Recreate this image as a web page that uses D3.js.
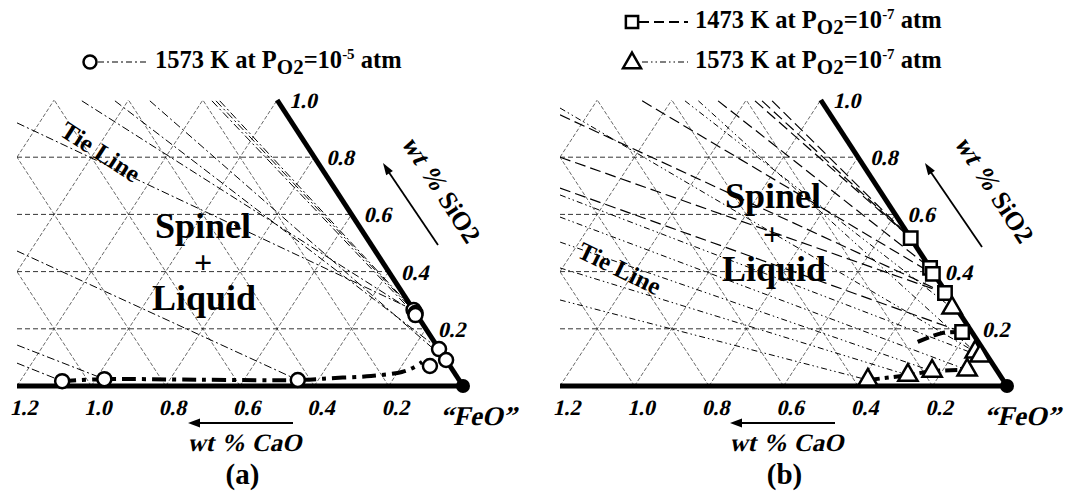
<!DOCTYPE html>
<html><head><meta charset="utf-8">
<script src="https://cdn.jsdelivr.net/npm/d3@7"></script>
<style>
body{margin:0;background:#fff;}
svg text{font-family:"Liberation Serif","Times New Roman",serif;font-weight:bold;fill:#000;}
</style></head><body>
<svg id="chart" width="1073" height="495"></svg>
<script>
// ---------- data ----------
const caoTicks = [1.2, 1.0, 0.8, 0.6, 0.4, 0.2];
const sio2Ticks = [1.0, 0.8, 0.6, 0.4, 0.2];
const gridLevels = [0.2, 0.4, 0.6, 0.8, 1.0, 1.2, 1.4, 1.6];

// panel (a): 1573 K, PO2 = 1e-5 atm  (CaO, SiO2 mass ratios)
const a1573CaO  = [1.07, 0.953, 0.434, 0.0, 0.0, 0.004, 0.0, 0.0, 0.054];
const a1573SiO2 = [0.017, 0.024, 0.021, 0.266, 0.255, 0.248, 0.129, 0.091, 0.070];
const aLiquidusCaO  = [1.07, 0.953, 0.70, 0.434, 0.33, 0.23, 0.14, 0.10, 0.068];
const aLiquidusSiO2 = [0.017, 0.024, 0.022, 0.021, 0.028, 0.035, 0.049, 0.065, 0.084];
// tie lines: [CaO start, SiO2 start, CaO end, SiO2 end]
const aTieLines = [
  [0.740, 0.920, 0.0, 0.266],
  [0.527, 0.997, 0.0, 0.255],
  [0.438, 0.997, 0.0, 0.129],
  [0.344, 0.997, 0.0, 0.091],
  [0.177, 0.997, 0.004, 0.248],
  [0.166, 0.997, 0.0, 0.255],
  [0.156, 0.997, 0.0, 0.266],
  [0.964, 0.472, 0.434, 0.021],
  [1.128, 0.143, 0.953, 0.024],
  [1.160, 0.080, 1.07, 0.017]
];

// panel (b): 1473 K and 1573 K at PO2 = 1e-7 atm
const b1473CaO  = [0.0, 0.0, 0.003, 0.004, 0.026];
const b1473SiO2 = [0.517, 0.413, 0.392, 0.325, 0.189];
const b1473BoundCaO  = [0.026, 0.082, 0.172];
const b1473BoundSiO2 = [0.189, 0.185, 0.150];
const b1573CaO  = [0.011, 0.026, 0.020, 0.079, 0.175, 0.247, 0.363];
const b1573SiO2 = [0.273, 0.119, 0.105, 0.056, 0.052, 0.038, 0.021];
const b1573BoundCaO  = [0.363, 0.247, 0.175, 0.079];
const b1573BoundSiO2 = [0.021, 0.038, 0.052, 0.056];
const b1473TieLines = [
  [0.178, 0.997, 0.0, 0.517],
  [0.159, 0.997, 0.0, 0.517],
  [0.132, 0.997, 0.0, 0.517],
  [0.277, 0.997, 0.0, 0.413],
  [0.481, 0.997, 0.003, 0.392],
  [0.726, 0.948, 0.004, 0.325],
  [0.800, 0.800, 0.004, 0.325],
  [0.854, 0.692, 0.026, 0.189]
];
const b1573TieLines = [
  [0.366, 0.997, 0.011, 0.273],
  [0.330, 0.997, 0.026, 0.119],
  [0.714, 0.972, 0.026, 0.119],
  [0.866, 0.668, 0.020, 0.105],
  [0.905, 0.591, 0.079, 0.056],
  [0.948, 0.503, 0.175, 0.052],
  [0.994, 0.413, 0.247, 0.038],
  [1.050, 0.301, 0.363, 0.021]
];

// ---------- drawing ----------
const svg = d3.select("#chart");
const SKEW = -13;
const DASH_A = "8,3,2,3";
const DASH_SQ = "11,5";
const DASH_TRI = "6,3,1.5,3,1.5,3";

function zip(cs, ss) { return cs.map((c, i) => [c, ss[i]]); }

// bold-italic text (slanted bold serif)
function itText(parent, x, y, size, anchor, str) {
  return parent.append("text").attr("transform", `translate(${x},${y}) skewX(${SKEW})`)
    .attr("font-size", size).attr("text-anchor", anchor).text(str);
}

function drawPanel(cfg) {
  const g = svg.append("g");
  const x = d3.scaleLinear().domain([0, 1.2]).range([cfg.xFeO, cfg.xLeft]);
  const y = d3.scaleLinear().domain([0, 1]).range([386, 100]);
  const P = (c, s) => [x(c + s / 2), y(s)];
  const line = d3.line();
  const curve = d3.line().curve(d3.curveCatmullRom.alpha(0.5));

  const clipId = "clip" + cfg.id;
  g.append("clipPath").attr("id", clipId).append("polygon")
    .attr("points", [P(1.2, 0), P(0, 0), P(0, 1), P(0.7, 1)].map(p => p.join(",")).join(" "));
  const cg = g.append("g").attr("clip-path", `url(#${clipId})`);

  // lattice grid
  sio2Ticks.filter(s => s < 1).forEach(s => {
    cg.append("path").attr("d", line([P(1.2 - s / 2, s), P(0, s)]))
      .attr("stroke", "#000").attr("stroke-width", 0.8).attr("stroke-dasharray", "5,3").attr("fill", "none");
  });
  gridLevels.filter(c => c < 1.2).forEach(c => {
    const sMax = Math.min(1, 2 * (1.2 - c));
    cg.append("path").attr("d", line([P(c, 0), P(c, sMax)]))
      .attr("stroke", "#000").attr("stroke-width", 0.6).attr("stroke-dasharray", "4,2").attr("fill", "none");
  });
  gridLevels.forEach(k => {
    const s0 = Math.max(0, 2 * (k - 1.2));
    const s1 = Math.min(k, 1);
    if (s1 <= s0) return;
    cg.append("path").attr("d", line([P(k - s0, s0), P(k - s1, s1)]))
      .attr("stroke", "#000").attr("stroke-width", 0.6).attr("stroke-dasharray", "4,2").attr("fill", "none");
  });

  // tie lines
  cfg.ties.forEach(t => {
    t.data.forEach(d => {
      cg.append("path").attr("d", line([P(d[0], d[1]), P(d[2], d[3])]))
        .attr("stroke", "#000").attr("stroke-width", t.w).attr("stroke-dasharray", t.dash).attr("fill", "none");
    });
  });

  // region labels
  cfg.labels.forEach(l => {
    g.append("text").attr("x", l.x).attr("y", l.y).attr("font-size", l.size)
      .attr("text-anchor", "middle").attr("transform", l.rot ? `rotate(${l.rot},${l.x},${l.y})` : null).text(l.t);
  });

  // thick axes
  g.append("path").attr("d", line([P(1.2, 0), P(0, 0)])).attr("stroke", "#000").attr("stroke-width", 5).attr("fill", "none");
  g.append("path").attr("d", line([P(0, 1), P(0, 0)])).attr("stroke", "#000").attr("stroke-width", 5).attr("fill", "none");
  g.append("circle").attr("cx", P(0, 0)[0]).attr("cy", P(0, 0)[1]).attr("r", 7).attr("fill", "#000");

  // boundary curves
  cfg.bounds.forEach(b => {
    g.append("path").attr("d", curve(b.pts.map(p => P(p[0], p[1]))))
      .attr("stroke", "#000").attr("stroke-width", 4).attr("stroke-dasharray", b.dash).attr("fill", "none");
  });

  // markers
  cfg.series.forEach(sr => {
    sr.pts.forEach(p => {
      const [px, py] = P(p[0], p[1]);
      if (sr.shape === "circle") {
        g.append("circle").attr("cx", px).attr("cy", py).attr("r", 7)
          .attr("fill", "#fff").attr("stroke", "#000").attr("stroke-width", 2.5);
      } else {
        const sym = sr.shape === "square" ? d3.symbol(d3.symbolSquare, 180) : d3.symbol(d3.symbolTriangle, 160);
        g.append("path").attr("d", sym()).attr("transform", `translate(${px},${py})`)
          .attr("fill", "#fff").attr("stroke", "#000").attr("stroke-width", 2.5);
      }
    });
  });

  // CaO axis labels via d3 axis
  const axisG = g.append("g").attr("transform", "translate(6,394)")
    .call(d3.axisBottom(x).tickValues(caoTicks).tickSize(0).tickFormat(d3.format(".1f")));
  axisG.select(".domain").remove();
  axisG.selectAll("text").attr("y", 0).attr("dy", 0)
    .attr("transform", `translate(0,21) skewX(${SKEW})`)
    .attr("font-size", 22).attr("font-weight", "bold").attr("fill", "#000");

  // SiO2 labels
  sio2Ticks.forEach(s => {
    const [px, py] = P(0, s);
    itText(g, px + 12, py + 8, 22, "start", s.toFixed(1));
  });

  // FeO label
  itText(g, P(0, 0)[0] + 15, 425, 27, "middle", "\u201CFeO\u201D");

  // CaO arrow + title
  const arrowY = 423;
  g.append("line").attr("x1", cfg.caoArrow[0]).attr("x2", cfg.caoArrow[1] + 6).attr("y1", arrowY).attr("y2", arrowY)
    .attr("stroke", "#000").attr("stroke-width", 2.2);
  g.append("path").attr("d", `M${cfg.caoArrow[1]},${arrowY} l12,-4.5 l0,9 z`).attr("fill", "#000");
  itText(g, (cfg.caoArrow[0] + cfg.caoArrow[1]) / 2 + 4, 451, 25, "middle", "wt % CaO");
  g.append("text").attr("x", (cfg.caoArrow[0] + cfg.caoArrow[1]) / 2 + 2).attr("y", 484).attr("font-size", 29)
    .attr("text-anchor", "middle").text(cfg.tag);

  // SiO2 arrow + title (parallel to SiO2 edge)
  const ang = Math.atan2(y(0) - y(1), x(0) - x(0.5)) * 180 / Math.PI;
  const [tx, ty, hx, hy] = cfg.sioArrow;
  g.append("line").attr("x1", tx).attr("y1", ty).attr("x2", hx + 3).attr("y2", hy + 5)
    .attr("stroke", "#000").attr("stroke-width", 1.8);
  g.append("path").attr("d", "M0,0 l12,-4 l0,8 z")
    .attr("transform", `translate(${hx},${hy}) rotate(${ang})`).attr("fill", "#000");
  const sg = g.append("g").attr("transform", `translate(${cfg.sioText[0]},${cfg.sioText[1]}) rotate(${ang})`);
  const inner = sg.append("g");
  const t1 = itText(inner, 0, 0, 26, "start", "wt %");
  const w1 = t1.node().getComputedTextLength();
  const t2 = inner.append("text").attr("x", w1 + 7).attr("y", 0).attr("font-size", 26).text("SiO2");
  const w2 = t2.node().getComputedTextLength();
  inner.attr("transform", `translate(${-(w1 + 7 + w2) / 2},0)`);

  return g;
}

function legendText(x, yb, temp, exp) {
  const t = svg.append("text").attr("x", x).attr("y", yb).attr("font-size", 24.5);
  t.append("tspan").text(temp + " K at P");
  t.append("tspan").attr("dy", 6).attr("font-size", 21).text("O2");
  t.append("tspan").attr("dy", -6).text("=10");
  t.append("tspan").attr("dy", -9).attr("font-size", 15).text(exp);
  t.append("tspan").attr("dy", 9).text(" atm");
}

drawPanel({
  id: "a", xFeO: 463, xLeft: 17, tag: "(a)",
  caoArrow: [293, 188], sioArrow: [438, 245, 383, 163], sioText: [434, 194],
  ties: [{ data: aTieLines, dash: DASH_A, w: 1 }],
  bounds: [{ pts: zip(aLiquidusCaO, aLiquidusSiO2), dash: "14,6,4,6" }],
  series: [{ shape: "circle", pts: zip(a1573CaO, a1573SiO2) }],
  labels: [
    { t: "Tie Line", x: 96, y: 159, size: 25, rot: 33 },
    { t: "Spinel", x: 203, y: 238, size: 36 },
    { t: "+", x: 203, y: 273, size: 32 },
    { t: "Liquid", x: 204, y: 310, size: 36 }
  ]
});

drawPanel({
  id: "b", xFeO: 1007, xLeft: 560, tag: "(b)",
  caoArrow: [835, 730], sioArrow: [982, 247, 925, 163], sioText: [987, 194],
  ties: [{ data: b1473TieLines, dash: DASH_SQ, w: 1.2 }, { data: b1573TieLines, dash: DASH_TRI, w: 1 }],
  bounds: [{ pts: zip(b1473BoundCaO, b1473BoundSiO2), dash: "12,5" },
           { pts: zip(b1573BoundCaO, b1573BoundSiO2), dash: "12,5,4,5" }],
  series: [{ shape: "square", pts: zip(b1473CaO, b1473SiO2) },
           { shape: "triangle", pts: zip(b1573CaO, b1573SiO2) }],
  labels: [
    { t: "Tie Line", x: 616, y: 276, size: 25, rot: 26 },
    { t: "Spinel", x: 773, y: 208, size: 36 },
    { t: "+", x: 772, y: 245, size: 32 },
    { t: "Liquid", x: 774, y: 281, size: 36 }
  ]
});

// legends
svg.append("circle").attr("cx", 90).attr("cy", 62).attr("r", 6.5).attr("fill", "#fff").attr("stroke", "#000").attr("stroke-width", 2.5);
svg.append("line").attr("x1", 98).attr("x2", 147).attr("y1", 62).attr("y2", 62).attr("stroke", "#000").attr("stroke-width", 1.2).attr("stroke-dasharray", "6,3,2,3");
legendText(155, 68, "1573", "-5");

svg.append("path").attr("d", d3.symbol(d3.symbolSquare, 150)()).attr("transform", "translate(632,22)")
  .attr("fill", "#fff").attr("stroke", "#000").attr("stroke-width", 2.5);
svg.append("line").attr("x1", 639).attr("x2", 688).attr("y1", 22).attr("y2", 22).attr("stroke", "#000").attr("stroke-width", 1.8).attr("stroke-dasharray", "10,5");
legendText(695, 28, "1473", "-7");

svg.append("path").attr("d", d3.symbol(d3.symbolTriangle, 140)()).attr("transform", "translate(632,63)")
  .attr("fill", "#fff").attr("stroke", "#000").attr("stroke-width", 2.5);
svg.append("line").attr("x1", 642).attr("x2", 688).attr("y1", 62).attr("y2", 62).attr("stroke", "#000").attr("stroke-width", 1.2).attr("stroke-dasharray", "6,3,1.5,3,1.5,3");
legendText(695, 68, "1573", "-7");
</script>
</body></html>
